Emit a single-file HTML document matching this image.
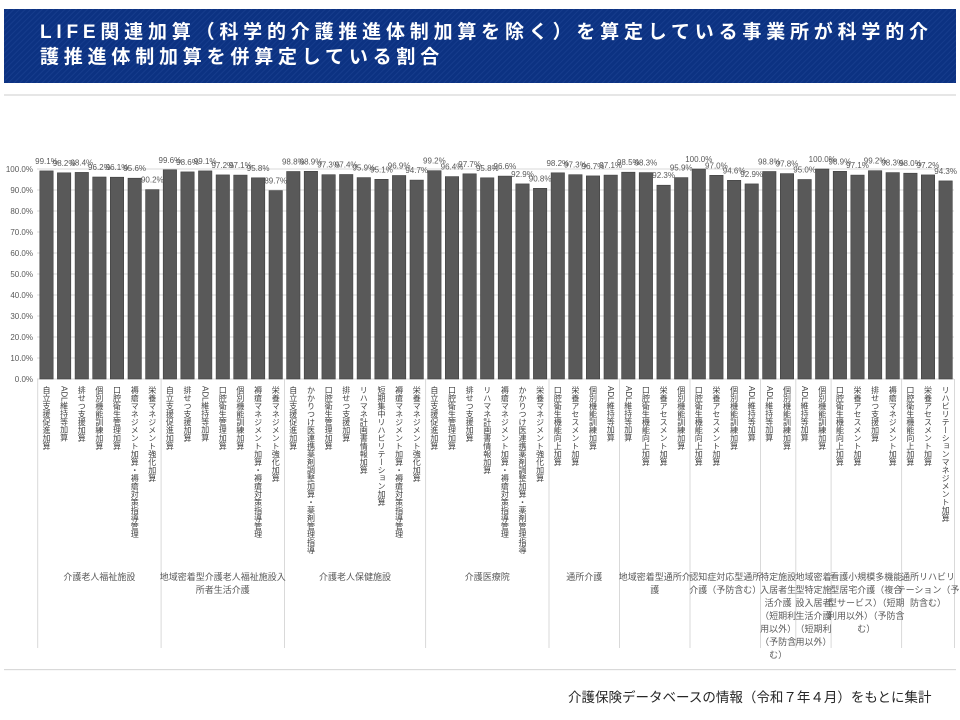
<!DOCTYPE html>
<html><head><meta charset="utf-8"><style>
html,body{margin:0;padding:0;background:#fff;}
svg{display:block;font-family:"Liberation Sans","Noto Sans CJK JP",sans-serif;}
.v{font-size:8px;fill:#595959;text-anchor:middle;}
.y{font-size:8px;fill:#595959;text-anchor:end;}
.c{font-size:8px;fill:#404040;writing-mode:tb;}
.g{font-size:9px;fill:#595959;text-anchor:middle;}
</style></head><body>
<svg width="960" height="720" viewBox="0 0 960 720" xmlns="http://www.w3.org/2000/svg">
<defs><pattern id="st" width="4" height="4" patternUnits="userSpaceOnUse" patternTransform="rotate(45)"><rect width="4" height="4" fill="#0c3282"/><rect width="1" height="4" fill="#163c8c"/></pattern></defs>
<rect x="4" y="9" width="952" height="74" fill="url(#st)"/>
<text x="40" y="38" font-size="19" font-weight="bold" fill="#fff" letter-spacing="4.8">LIFE関連加算（科学的介護推進体制加算を除く）を算定している事業所が科学的介</text>
<text x="40" y="63" font-size="19" font-weight="bold" fill="#fff" letter-spacing="4.8">護推進体制加算を併算定している割合</text>
<rect x="4" y="94" width="952" height="2" fill="#e6e6e6"/>
<g stroke="#d9d9d9" stroke-width="1">
<line x1="37" y1="169" x2="954" y2="169"/><line x1="37" y1="190" x2="954" y2="190"/><line x1="37" y1="211" x2="954" y2="211"/><line x1="37" y1="232" x2="954" y2="232"/><line x1="37" y1="253" x2="954" y2="253"/><line x1="37" y1="274" x2="954" y2="274"/><line x1="37" y1="295" x2="954" y2="295"/><line x1="37" y1="316" x2="954" y2="316"/><line x1="37" y1="337" x2="954" y2="337"/><line x1="37" y1="358" x2="954" y2="358"/><line x1="37" y1="379" x2="954" y2="379"/>
<line x1="37.7" y1="379" x2="37.7" y2="648"/><line x1="161.1" y1="379" x2="161.1" y2="648"/><line x1="284.5" y1="379" x2="284.5" y2="648"/><line x1="425.6" y1="379" x2="425.6" y2="648"/><line x1="549" y1="379" x2="549" y2="648"/><line x1="619.5" y1="379" x2="619.5" y2="648"/><line x1="690" y1="379" x2="690" y2="648"/><line x1="760.5" y1="379" x2="760.5" y2="648"/><line x1="795.8" y1="379" x2="795.8" y2="648"/><line x1="831.1" y1="379" x2="831.1" y2="648"/><line x1="901.6" y1="379" x2="901.6" y2="648"/><line x1="954.5" y1="379" x2="954.5" y2="648"/>
</g>
<g class="y">
<text x="33" y="172" class="y">100.0%</text><text x="33" y="193" class="y">90.0%</text><text x="33" y="214" class="y">80.0%</text><text x="33" y="235" class="y">70.0%</text><text x="33" y="256" class="y">60.0%</text><text x="33" y="277" class="y">50.0%</text><text x="33" y="298" class="y">40.0%</text><text x="33" y="319" class="y">30.0%</text><text x="33" y="340" class="y">20.0%</text><text x="33" y="361" class="y">10.0%</text><text x="33" y="382" class="y">0.0%</text>
</g>
<g fill="#595959" stroke="#404040" stroke-width="0.6">
<rect x="39.8" y="170.9" width="13.4" height="208.1"/>
<rect x="57.4" y="172.8" width="13.4" height="206.2"/>
<rect x="75.1" y="172.4" width="13.4" height="206.6"/>
<rect x="92.7" y="177" width="13.4" height="202"/>
<rect x="110.3" y="177.2" width="13.4" height="201.8"/>
<rect x="128" y="178.2" width="13.4" height="200.8"/>
<rect x="145.6" y="189.6" width="13.4" height="189.4"/>
<rect x="163.2" y="169.8" width="13.4" height="209.2"/>
<rect x="180.8" y="171.9" width="13.4" height="207.1"/>
<rect x="198.5" y="170.9" width="13.4" height="208.1"/>
<rect x="216.1" y="174.9" width="13.4" height="204.1"/>
<rect x="233.7" y="175.1" width="13.4" height="203.9"/>
<rect x="251.4" y="177.8" width="13.4" height="201.2"/>
<rect x="269" y="190.6" width="13.4" height="188.4"/>
<rect x="286.6" y="171.5" width="13.4" height="207.5"/>
<rect x="304.2" y="171.3" width="13.4" height="207.7"/>
<rect x="321.9" y="174.7" width="13.4" height="204.3"/>
<rect x="339.5" y="174.5" width="13.4" height="204.5"/>
<rect x="357.1" y="177.6" width="13.4" height="201.4"/>
<rect x="374.8" y="179.3" width="13.4" height="199.7"/>
<rect x="392.4" y="175.5" width="13.4" height="203.5"/>
<rect x="410" y="180.1" width="13.4" height="198.9"/>
<rect x="427.7" y="170.7" width="13.4" height="208.3"/>
<rect x="445.3" y="176.6" width="13.4" height="202.4"/>
<rect x="462.9" y="173.8" width="13.4" height="205.2"/>
<rect x="480.5" y="177.8" width="13.4" height="201.2"/>
<rect x="498.2" y="176.1" width="13.4" height="202.9"/>
<rect x="515.8" y="183.9" width="13.4" height="195.1"/>
<rect x="533.4" y="188.3" width="13.4" height="190.7"/>
<rect x="551.1" y="172.8" width="13.4" height="206.2"/>
<rect x="568.7" y="174.7" width="13.4" height="204.3"/>
<rect x="586.3" y="175.9" width="13.4" height="203.1"/>
<rect x="604" y="175.1" width="13.4" height="203.9"/>
<rect x="621.6" y="172.2" width="13.4" height="206.8"/>
<rect x="639.2" y="172.6" width="13.4" height="206.4"/>
<rect x="656.9" y="185.2" width="13.4" height="193.8"/>
<rect x="674.5" y="177.6" width="13.4" height="201.4"/>
<rect x="692.1" y="169" width="13.4" height="210"/>
<rect x="709.7" y="175.3" width="13.4" height="203.7"/>
<rect x="727.4" y="180.3" width="13.4" height="198.7"/>
<rect x="745" y="183.9" width="13.4" height="195.1"/>
<rect x="762.6" y="171.5" width="13.4" height="207.5"/>
<rect x="780.3" y="173.6" width="13.4" height="205.4"/>
<rect x="797.9" y="179.5" width="13.4" height="199.5"/>
<rect x="815.5" y="169" width="13.4" height="210"/>
<rect x="833.2" y="171.3" width="13.4" height="207.7"/>
<rect x="850.8" y="175.1" width="13.4" height="203.9"/>
<rect x="868.4" y="170.7" width="13.4" height="208.3"/>
<rect x="886" y="172.6" width="13.4" height="206.4"/>
<rect x="903.7" y="173.2" width="13.4" height="205.8"/>
<rect x="921.3" y="174.9" width="13.4" height="204.1"/>
<rect x="938.9" y="180.9" width="13.4" height="198.1"/>
</g>
<g class="v">
<text x="46.5" y="163.9" class="v">99.1%</text><text x="64.1" y="165.8" class="v">98.2%</text><text x="81.8" y="165.4" class="v">98.4%</text><text x="99.4" y="170" class="v">96.2%</text><text x="117" y="170.2" class="v">96.1%</text><text x="134.7" y="171.2" class="v">95.6%</text><text x="152.3" y="182.6" class="v">90.2%</text>
<text x="169.9" y="162.8" class="v">99.6%</text><text x="187.5" y="164.9" class="v">98.6%</text><text x="205.2" y="163.9" class="v">99.1%</text><text x="222.8" y="167.9" class="v">97.2%</text><text x="240.4" y="168.1" class="v">97.1%</text><text x="258.1" y="170.8" class="v">95.8%</text><text x="275.7" y="183.6" class="v">89.7%</text>
<text x="293.3" y="164.5" class="v">98.8%</text><text x="311" y="164.3" class="v">98.9%</text><text x="328.6" y="167.7" class="v">97.3%</text><text x="346.2" y="167.5" class="v">97.4%</text><text x="363.8" y="170.6" class="v">95.9%</text><text x="381.5" y="172.3" class="v">95.1%</text><text x="399.1" y="168.5" class="v">96.9%</text><text x="416.7" y="173.1" class="v">94.7%</text>
<text x="434.4" y="163.7" class="v">99.2%</text><text x="452" y="169.6" class="v">96.4%</text><text x="469.6" y="166.8" class="v">97.7%</text><text x="487.3" y="170.8" class="v">95.8%</text><text x="504.9" y="169.1" class="v">96.6%</text><text x="522.5" y="176.9" class="v">92.9%</text><text x="540.1" y="181.3" class="v">90.8%</text>
<text x="557.8" y="165.8" class="v">98.2%</text><text x="575.4" y="167.7" class="v">97.3%</text><text x="593" y="168.9" class="v">96.7%</text><text x="610.7" y="168.1" class="v">97.1%</text>
<text x="628.3" y="165.2" class="v">98.5%</text><text x="645.9" y="165.6" class="v">98.3%</text><text x="663.6" y="178.2" class="v">92.3%</text><text x="681.2" y="170.6" class="v">95.9%</text>
<text x="698.8" y="162" class="v">100.0%</text><text x="716.4" y="168.3" class="v">97.0%</text><text x="734.1" y="173.3" class="v">94.6%</text><text x="751.7" y="176.9" class="v">92.9%</text>
<text x="769.3" y="164.5" class="v">98.8%</text><text x="787" y="166.6" class="v">97.8%</text>
<text x="804.6" y="172.5" class="v">95.0%</text><text x="822.2" y="162" class="v">100.0%</text>
<text x="839.9" y="164.3" class="v">98.9%</text><text x="857.5" y="168.1" class="v">97.1%</text><text x="875.1" y="163.7" class="v">99.2%</text><text x="892.7" y="165.6" class="v">98.3%</text>
<text x="910.4" y="166.2" class="v">98.0%</text><text x="928" y="167.9" class="v">97.2%</text><text x="945.6" y="173.9" class="v">94.3%</text>
</g>
<g class="c">
<text x="46.5" y="386" class="c">自立支援促進加算</text><text x="64.1" y="386" class="c">ADL維持等加算</text><text x="81.8" y="386" class="c">排せつ支援加算</text><text x="99.4" y="386" class="c">個別機能訓練加算</text><text x="117" y="386" class="c">口腔衛生管理加算</text><text x="134.7" y="386" class="c">褥瘡マネジメント加算・褥瘡対策指導管理</text><text x="152.3" y="386" class="c">栄養マネジメント強化加算</text>
<text x="169.9" y="386" class="c">自立支援促進加算</text><text x="187.5" y="386" class="c">排せつ支援加算</text><text x="205.2" y="386" class="c">ADL維持等加算</text><text x="222.8" y="386" class="c">口腔衛生管理加算</text><text x="240.4" y="386" class="c">個別機能訓練加算</text><text x="258.1" y="386" class="c">褥瘡マネジメント加算・褥瘡対策指導管理</text><text x="275.7" y="386" class="c">栄養マネジメント強化加算</text>
<text x="293.3" y="386" class="c">自立支援促進加算</text><text x="311" y="386" class="c">かかりつけ医連携薬剤調整加算・薬剤管理指導</text><text x="328.6" y="386" class="c">口腔衛生管理加算</text><text x="346.2" y="386" class="c">排せつ支援加算</text><text x="363.8" y="386" class="c">リハマネ計画書情報加算</text><text x="381.5" y="386" class="c">短期集中リハビリテーション加算</text><text x="399.1" y="386" class="c">褥瘡マネジメント加算・褥瘡対策指導管理</text><text x="416.7" y="386" class="c">栄養マネジメント強化加算</text>
<text x="434.4" y="386" class="c">自立支援促進加算</text><text x="452" y="386" class="c">口腔衛生管理加算</text><text x="469.6" y="386" class="c">排せつ支援加算</text><text x="487.3" y="386" class="c">リハマネ計画書情報加算</text><text x="504.9" y="386" class="c">褥瘡マネジメント加算・褥瘡対策指導管理</text><text x="522.5" y="386" class="c">かかりつけ医連携薬剤調整加算・薬剤管理指導</text><text x="540.1" y="386" class="c">栄養マネジメント強化加算</text>
<text x="557.8" y="386" class="c">口腔衛生機能向上加算</text><text x="575.4" y="386" class="c">栄養アセスメント加算</text><text x="593" y="386" class="c">個別機能訓練加算</text><text x="610.7" y="386" class="c">ADL維持等加算</text>
<text x="628.3" y="386" class="c">ADL維持等加算</text><text x="645.9" y="386" class="c">口腔衛生機能向上加算</text><text x="663.6" y="386" class="c">栄養アセスメント加算</text><text x="681.2" y="386" class="c">個別機能訓練加算</text>
<text x="698.8" y="386" class="c">口腔衛生機能向上加算</text><text x="716.4" y="386" class="c">栄養アセスメント加算</text><text x="734.1" y="386" class="c">個別機能訓練加算</text><text x="751.7" y="386" class="c">ADL維持等加算</text>
<text x="769.3" y="386" class="c">ADL維持等加算</text><text x="787" y="386" class="c">個別機能訓練加算</text>
<text x="804.6" y="386" class="c">ADL維持等加算</text><text x="822.2" y="386" class="c">個別機能訓練加算</text>
<text x="839.9" y="386" class="c">口腔衛生機能向上加算</text><text x="857.5" y="386" class="c">栄養アセスメント加算</text><text x="875.1" y="386" class="c">排せつ支援加算</text><text x="892.7" y="386" class="c">褥瘡マネジメント加算</text>
<text x="910.4" y="386" class="c">口腔衛生機能向上加算</text><text x="928" y="386" class="c">栄養アセスメント加算</text><text x="945.6" y="386" class="c">リハビリテーションマネジメント加算</text>
</g>
<g class="g">
<text x="99.4" y="580" class="g">介護老人福祉施設</text>
<text x="222.8" y="580" class="g">地域密着型介護老人福祉施設入</text><text x="222.8" y="593" class="g">所者生活介護</text>
<text x="355" y="580" class="g">介護老人保健施設</text>
<text x="487.3" y="580" class="g">介護医療院</text>
<text x="584.2" y="580" class="g">通所介護</text>
<text x="654.7" y="580" class="g">地域密着型通所介</text><text x="654.7" y="593" class="g">護</text>
<text x="725.2" y="580" class="g">認知症対応型通所</text><text x="725.2" y="593" class="g">介護（予防含む）</text>
<text x="778.1" y="580" class="g">特定施設</text><text x="778.1" y="593" class="g">入居者生</text><text x="778.1" y="606" class="g">活介護</text><text x="778.1" y="619" class="g">（短期利</text><text x="778.1" y="632" class="g">用以外）</text><text x="778.1" y="645" class="g">（予防含</text><text x="778.1" y="658" class="g">む）</text>
<text x="813.5" y="580" class="g">地域密着</text><text x="813.5" y="593" class="g">型特定施</text><text x="813.5" y="606" class="g">設入居者</text><text x="813.5" y="619" class="g">生活介護</text><text x="813.5" y="632" class="g">（短期利</text><text x="813.5" y="645" class="g">用以外）</text>
<text x="866.3" y="580" class="g">看護小規模多機能</text><text x="866.3" y="593" class="g">型居宅介護（複合</text><text x="866.3" y="606" class="g">型サービス）（短期</text><text x="866.3" y="619" class="g">利用以外）（予防含</text><text x="866.3" y="632" class="g">む）</text>
<text x="928" y="580" class="g">通所リハビリ</text><text x="928" y="593" class="g">テーション（予</text><text x="928" y="606" class="g">防含む）</text>
</g>
<rect x="4" y="669" width="952" height="1.2" fill="#d9d9d9"/>
<text x="568" y="702" font-size="13.5" fill="#262626">介護保険データベースの情報（令和７年４月）をもとに集計</text>
</svg>
</body></html>
